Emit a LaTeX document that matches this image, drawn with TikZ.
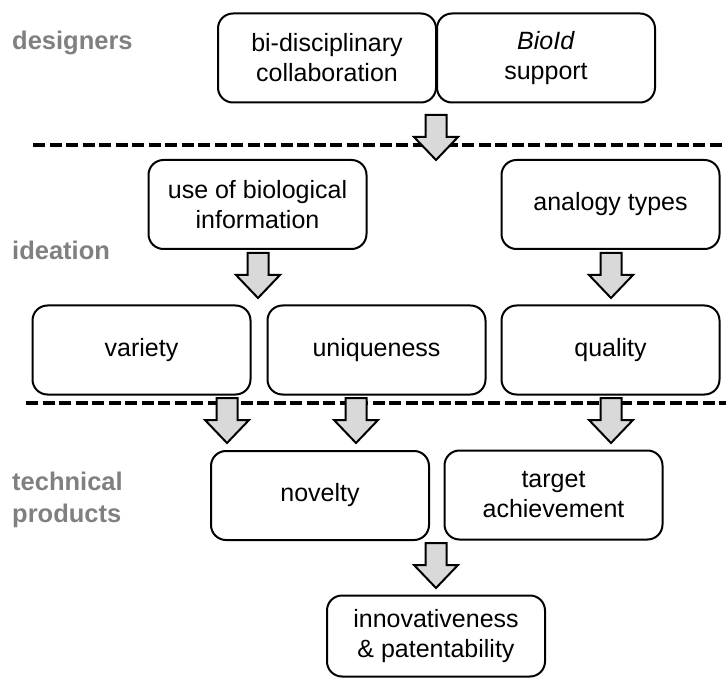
\documentclass[tikz,border=0pt]{standalone}
\usepackage{fontspec}
\setmainfont{Liberation Sans}
\begin{document}
\begin{tikzpicture}[x=1pt,y=-1pt,
  box/.style={draw=black, line width=2pt, rounded corners=15pt, fill=white,
    minimum width=218pt, minimum height=89pt, align=center, inner sep=2pt,
    font=\fontsize{25}{30}\selectfont},
  lanelabel/.style={anchor=base west, inner sep=0pt, text=black!50,
    font=\fontsize{25.5}{32}\selectfont\bfseries, align=left},
  divider/.style={line width=3.5pt, dash pattern=on 12pt off 4.5pt},
  arrowbody/.style={draw=black, line width=2pt, fill=black!15, line join=miter},
  blockarrow/.pic={
    \draw[arrowbody] (-10.5,0) -- (-10.5,22) -- (-22,22) -- (0,45)
      -- (22,22) -- (10.5,22) -- (10.5,0) -- cycle;}
]
\useasboundingbox (0,0) rectangle (726,679);

% lane labels
\node[lanelabel] (lblDes) at (12,50) {designers};
\node[lanelabel] (lblIde) at (12,260) {ideation};
\node[lanelabel] (lblTec) at (12,522) {technical\\products};

% lane dividers
\coordinate (d1a) at (33,145);  \coordinate (d1b) at (726,145);
\coordinate (d2a) at (26,403);  \coordinate (d2b) at (726,403);
\draw[divider] (d1a) -- (d1b);
\draw[divider] (d2a) -- (d2b);

% designers
\node[box] (bidisc) at (327,58) {bi-disciplinary\\collaboration};
\node[box] (bioid) at (546,58) {\textit{BioId}\\support};

% ideation
\node[box] (usebio) at (257.5,204.5) {use of biological\\information};
\node[box] (analogy) at (610.5,204.5) {analogy types};
\node[box] (variety) at (141.5,350) {variety};
\node[box] (unique) at (376.5,350) {uniqueness};
\node[box] (quality) at (610.5,350) {quality};

% technical products
\node[box] (novelty) at (320,495.5) {novelty};
\node[box] (target) at (553.5,495) {target\\achievement};
\node[box, minimum height=81pt] (innov) at (436,636) {innovativeness\\\& patentability};

% block arrows between the stages (top of the shaft)
\coordinate (arrDes) at (436,115);
\coordinate (arrBio) at (258,253);
\coordinate (arrAna) at (611,253);
\coordinate (arrVar) at (227,398);
\coordinate (arrUni) at (356,398);
\coordinate (arrQua) at (611,398);
\coordinate (arrNov) at (436,543);
\foreach \c in {arrDes,arrBio,arrAna,arrVar,arrUni,arrQua,arrNov}
  \pic at (\c) {blockarrow};
\end{tikzpicture}
\end{document}
